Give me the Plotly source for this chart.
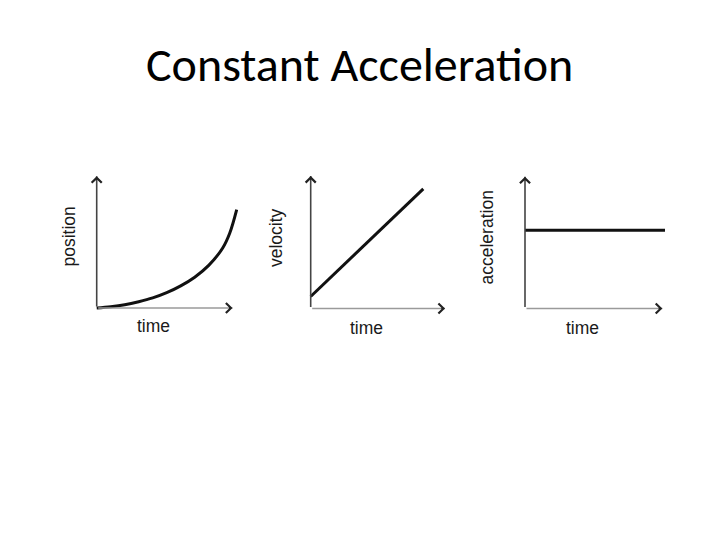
import plotly.graph_objects as go

W, H = 720, 540
# the page body has an 8px default margin; pixel targets below are page pixels
OFF = 8.0

title_text = "Constant Acceleration"
x_label = "time"
y_labels = ["position", "velocity", "acceleration"]

# Panel 1: position vs time (curving upward)
pos_time = [0, 1, 2, 3, 4, 5, 6, 7, 8, 9, 9.5, 10]
pos_vals = [0, 1.3, 3.3, 6.4, 10.3, 15.6, 22.5, 31.3, 43.3, 61, 76, 100]

# Panel 2: velocity vs time (straight line)
vel_time = [0, 10]
vel_vals = [1, 10]

# Panel 3: acceleration vs time (constant)
acc_time = [0, 10]
acc_vals = [5, 5]

# Axis arrow lengths (data units): [x tip, y tip] per panel
axis_tips = [[9.7, 134], [11.93, 11.07], [9.81, 8.43]]

# Layout geometry: origin page pixel and px-per-unit per panel
panels = [
    dict(ox=96.7, oy=308.0, sx=14.0, sy=0.984),
    dict(ox=310.7, oy=308.5, sx=11.26, sy=11.97),
    dict(ox=525.0, oy=308.5, sx=14.0, sy=15.64),
]
series = [(pos_time, pos_vals), (vel_time, vel_vals), (acc_time, acc_vals)]
label_pos = [(68.5, 237), (276, 238), (486, 237.5)]
time_pos = [(153.7, 326), (366.7, 327.5), (582, 327.5)]


def px(x):
    return (x - OFF) / W


def py(y):
    return 1 - (y - OFF) / H


fig = go.Figure()
annotations = []
for i, (p, (tx, ty), tips) in enumerate(zip(panels, series, axis_tips)):
    n = "" if i == 0 else str(i + 1)
    xa, ya = "x" + n, "y" + n
    xmax = max(max(tx), tips[0]) + 0.6
    ymax = max(max(ty), tips[1]) * 1.04
    xmin = -0.4
    ymin = -0.04 * ymax
    xr = [xmin, xmax]
    yr = [ymin, ymax]
    dom_x = [px(p["ox"] + xmin * p["sx"]), px(p["ox"] + xmax * p["sx"])]
    dom_y = [py(p["oy"] - ymin * p["sy"]), py(p["oy"] - ymax * p["sy"])]
    axcommon = dict(showgrid=False, zeroline=False, showticklabels=False,
                    showline=False, ticks="", fixedrange=True)
    fig.update_layout(**{
        "xaxis" + n: dict(domain=dom_x, range=xr, anchor=ya, **axcommon),
        "yaxis" + n: dict(domain=dom_y, range=yr, anchor=xa, **axcommon),
    })
    fig.add_trace(go.Scatter(x=tx, y=ty, xaxis=xa, yaxis=ya, mode="lines",
                             line=dict(color="#111111", width=3, shape="spline"),
                             hoverinfo="skip", showlegend=False))
    # axis shafts
    for (hx, hy, col) in [(tips[0], 0, "#9a9a9a"), (0, tips[1], "#444444")]:
        annotations.append(dict(x=hx, y=hy, ax=0, ay=0, xref=xa, yref=ya,
                                axref=xa, ayref=ya, text="", showarrow=True,
                                arrowhead=0, arrowwidth=1.6, arrowcolor=col))
    # arrow heads
    dx = 5.0 / p["sx"]
    dy = 5.0 / p["sy"]
    annotations.append(dict(x=tips[0], y=0, ax=tips[0] - dx, ay=0, xref=xa, yref=ya,
                            axref=xa, ayref=ya, text="", showarrow=True,
                            arrowhead=4, arrowsize=1.5, arrowwidth=1.3, arrowcolor="#222222"))
    annotations.append(dict(x=0, y=tips[1], ax=0, ay=tips[1] - dy, xref=xa, yref=ya,
                            axref=xa, ayref=ya, text="", showarrow=True,
                            arrowhead=4, arrowsize=1.5, arrowwidth=1.3, arrowcolor="#222222"))
    # labels
    lx, ly = label_pos[i]
    annotations.append(dict(x=px(lx), y=py(ly), xref="paper", yref="paper",
                            text=y_labels[i], textangle=-90, showarrow=False,
                            xanchor="center", yanchor="middle",
                            font=dict(family="Liberation Sans, Arial, sans-serif",
                                      size=17.5, color="#1a1a1a")))
    tx_, ty_ = time_pos[i]
    annotations.append(dict(x=px(tx_), y=py(ty_), xref="paper", yref="paper",
                            text=x_label, showarrow=False,
                            xanchor="center", yanchor="middle",
                            font=dict(family="Liberation Sans, Arial, sans-serif",
                                      size=17.5, color="#1a1a1a")))

annotations.append(dict(x=px(359), y=py(65), xref="paper", yref="paper",
                        text=title_text, showarrow=False,
                        xanchor="center", yanchor="middle",
                        font=dict(family="Carlito, Lato, sans-serif", size=48, color="#000000")))

fig.update_layout(width=W, height=H, autosize=False,
                  margin=dict(l=0, r=0, t=0, b=0),
                  paper_bgcolor="white", plot_bgcolor="white",
                  showlegend=False, annotations=annotations)

fig.write_html("out.html", config={"displayModeBar": False})
